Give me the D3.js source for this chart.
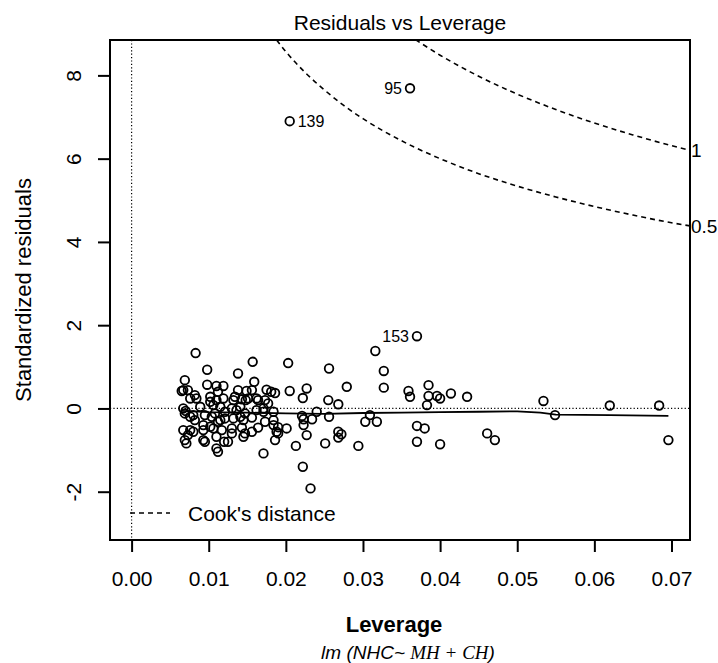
<!DOCTYPE html>
<html lang="en">
<head>
  <meta charset="utf-8">
  <title>Residuals vs Leverage</title>
  <script src="https://d3js.org/d3.v7.min.js"></script>
  <style>
    body { margin: 0; background: #fff; }
    svg { font-family: "Liberation Sans", Arial, sans-serif; }
    .pt { fill: none; stroke: #000; stroke-width: 1.8; }
    .cook { fill: none; stroke: #000; stroke-width: 1.6; stroke-dasharray: 5,4; }
    .ref { stroke: #000; stroke-width: 1.2; stroke-dasharray: 1.2,2.2; }
    .smooth { fill: none; stroke: #000; stroke-width: 1.8; }
  </style>
</head>
<body>
<script>
  // leverage / standardized residual pairs
  const leverage = [
    0.0083, 0.0157, 0.0098, 0.0138, 0.0203, 0.0069, 0.0067, 0.0098, 0.0110, 0.0119,
    0.0159, 0.0175, 0.0181, 0.0186, 0.0138, 0.0156, 0.0205, 0.0076, 0.0082, 0.0102,
    0.0110, 0.0119, 0.0134, 0.0143, 0.0151, 0.0164, 0.0177, 0.0067, 0.0070, 0.0089,
    0.0106, 0.0115, 0.0130, 0.0136, 0.0162, 0.0171, 0.0076, 0.0082, 0.0095, 0.0104,
    0.0115, 0.0121, 0.0141, 0.0156, 0.0173, 0.0184, 0.0067, 0.0080, 0.0093, 0.0106,
    0.0117, 0.0130, 0.0143, 0.0147, 0.0156, 0.0164, 0.0188, 0.0201, 0.0069, 0.0071,
    0.0093, 0.0110, 0.0125, 0.0145, 0.0186, 0.0110, 0.0112, 0.0171,
    0.0102, 0.0132, 0.0148, 0.0173, 0.0141, 0.0069, 0.0080, 0.0108, 0.0121, 0.0147,
    0.0171, 0.0184, 0.0112, 0.0132, 0.0145, 0.0093, 0.0102, 0.0184, 0.0076, 0.0130,
    0.0073, 0.0095, 0.0065, 0.0073, 0.0112, 0.0149, 0.0084, 0.0162, 0.0120, 0.0190,
    0.0256, 0.0316, 0.0327, 0.0227, 0.0222, 0.0279, 0.0327, 0.0359, 0.0361, 0.0385,
    0.0385, 0.0396, 0.0400, 0.0255, 0.0268, 0.0383, 0.0240, 0.0221, 0.0223, 0.0234,
    0.0256, 0.0309, 0.0303, 0.0318, 0.0190, 0.0223, 0.0227, 0.0268, 0.0272, 0.0268,
    0.0370, 0.0380, 0.0213, 0.0251, 0.0294, 0.0370, 0.0400, 0.0222, 0.0232,
    0.0414, 0.0435, 0.0534, 0.0549, 0.0620, 0.0684, 0.0461, 0.0471, 0.0696
  ];
  const stdResid = [
    1.33, 1.12, 0.93, 0.84, 1.09, 0.68, 0.44, 0.57, 0.54, 0.54,
    0.64, 0.45, 0.40, 0.37, 0.44, 0.44, 0.42, 0.24, 0.32, 0.28,
    0.20, 0.24, 0.28, 0.22, 0.24, 0.20, 0.12, 0.00, -0.06, 0.04,
    0.08, 0.04, 0.00, -0.04, -0.04, 0.00, -0.20, -0.28, -0.16, -0.20,
    -0.28, -0.24, -0.20, -0.22, -0.32, -0.28, -0.52, -0.56, -0.52, -0.48,
    -0.52, -0.48, -0.46, -0.60, -0.56, -0.46, -0.56, -0.48, -0.76, -0.84,
    -0.76, -0.68, -0.80, -0.68, -0.76, -0.96, -1.04, -1.08,
    0.16, 0.20, 0.20, 0.20, 0.04, -0.12, -0.16, -0.12, -0.08, -0.12,
    -0.08, -0.08, -0.32, -0.24, -0.28, -0.40, -0.44, -0.40, -0.52, -0.60,
    -0.64, -0.80, 0.42, 0.44, 0.40, 0.42, 0.24, 0.24, -0.80, -0.45,
    0.96, 1.38, 0.90, 0.48, 0.25, 0.52, 0.50, 0.42, 0.28, 0.56,
    0.30, 0.30, 0.24, 0.20, 0.10, 0.08, -0.08, -0.18, -0.26, -0.26,
    -0.20, -0.16, -0.32, -0.32, -0.60, -0.40, -0.64, -0.56, -0.62, -0.70,
    -0.42, -0.48, -0.90, -0.84, -0.90, -0.80, -0.86, -1.40, -1.92,
    0.36, 0.28, 0.18, -0.16, 0.07, 0.07, -0.60, -0.76, -0.76
  ];

  // labelled observations
  const outlierIds = ["139", "95", "153"];
  const outlierLev = [0.0205, 0.0361, 0.0370];
  const outlierRes = [6.90, 7.69, 1.735];

  // smoother through the residuals
  const smoothLev = [0.0065, 0.010, 0.015, 0.020, 0.025, 0.030, 0.035, 0.040, 0.045, 0.050, 0.053, 0.055, 0.062, 0.0696];
  const smoothRes = [-0.06, -0.09, -0.10, -0.12, -0.13, -0.11, -0.10, -0.09, -0.08, -0.07, -0.10, -0.15, -0.16, -0.18];

  // Cook's distance contours (0.5 and 1)
  const cook05Lev = [0.0188, 0.020, 0.0225, 0.025, 0.0275, 0.030, 0.035, 0.0365, 0.040, 0.045, 0.050, 0.055, 0.060, 0.065, 0.070, 0.0724];
  const cook05Res = [8.85, 8.57, 8.07, 7.65, 7.28, 6.96, 6.43, 6.29, 6.00, 5.64, 5.34, 5.08, 4.85, 4.645, 4.46, 4.384];
  const cook1Lev = [0.0368, 0.040, 0.045, 0.050, 0.055, 0.060, 0.065, 0.070, 0.0724];
  const cook1Res = [8.86, 8.485, 7.98, 7.55, 7.18, 6.856, 6.57, 6.313, 6.20];
  const cookLabels = ["1", "0.5"];

  const xTicks = [0, 0.01, 0.02, 0.03, 0.04, 0.05, 0.06, 0.07];
  const yTicks = [-2, 0, 2, 4, 6, 8];

  const width = 718, height = 663;
  const box = { left: 110, right: 690, top: 40, bottom: 540 };

  const svg = d3.select("body").append("svg")
    .attr("width", width)
    .attr("height", height);

  const x = d3.scaleLinear().domain([-0.0028, 0.0724]).range([box.left, box.right]);
  const y = d3.scaleLinear().domain([-3.16, 8.85]).range([box.bottom, box.top]);

  svg.append("clipPath").attr("id", "plot-clip")
    .append("rect")
    .attr("x", box.left).attr("y", box.top)
    .attr("width", box.right - box.left).attr("height", box.bottom - box.top);

  const plot = svg.append("g").attr("clip-path", "url(#plot-clip)");

  // dotted reference lines at 0
  plot.append("line").attr("class", "ref")
    .attr("x1", box.left).attr("x2", box.right)
    .attr("y1", y(0)).attr("y2", y(0));
  plot.append("line").attr("class", "ref")
    .attr("x1", x(0)).attr("x2", x(0))
    .attr("y1", box.top).attr("y2", box.bottom);

  // Cook's distance curves
  const line = d3.line().x(d => x(d[0])).y(d => y(d[1])).curve(d3.curveMonotoneX);
  const cook1 = cook1Lev.map((h, i) => [h, cook1Res[i]]);
  const cook05 = cook05Lev.map((h, i) => [h, cook05Res[i]]);
  plot.append("path").attr("class", "cook").attr("d", line(cook1));
  plot.append("path").attr("class", "cook").attr("d", line(cook05));

  // points
  const pts = leverage.map((h, i) => ({ h: h, r: stdResid[i] }));
  plot.selectAll(".pt")
    .data(pts)
    .enter().append("circle")
    .attr("class", "pt")
    .attr("cx", d => x(d.h))
    .attr("cy", d => y(d.r))
    .attr("r", 4.3);

  const outliers = outlierIds.map((id, i) => ({ id: id, h: outlierLev[i], r: outlierRes[i] }));
  plot.selectAll(".out")
    .data(outliers)
    .enter().append("circle")
    .attr("class", "pt out")
    .attr("cx", d => x(d.h))
    .attr("cy", d => y(d.r))
    .attr("r", 4.3);

  // smoother
  const smooth = smoothLev.map((h, i) => [h, smoothRes[i]]);
  plot.append("path").attr("class", "smooth")
    .attr("d", d3.line().x(d => x(d[0])).y(d => y(d[1]))(smooth));

  // id labels: right of point on left half, left of point on right half
  const mid = d3.mean(x.domain());
  svg.selectAll(".idlab")
    .data(outliers)
    .enter().append("text")
    .attr("class", "idlab")
    .attr("x", d => d.h < mid ? x(d.h) + 8 : x(d.h) - 8)
    .attr("y", d => y(d.r))
    .attr("dy", "0.36em")
    .attr("text-anchor", d => d.h < mid ? "start" : "end")
    .attr("font-size", 16)
    .text(d => d.id);

  // contour labels at right edge
  const cookEnds = [cook1Res[cook1Res.length - 1], cook05Res[cook05Res.length - 1]];
  svg.selectAll(".cooklab")
    .data(cookLabels)
    .enter().append("text")
    .attr("class", "cooklab")
    .attr("x", box.right + 1)
    .attr("y", (d, i) => y(cookEnds[i]))
    .attr("dy", "0.36em")
    .attr("font-size", 19)
    .text(d => d);

  // legend
  svg.append("line").attr("class", "cook")
    .attr("x1", 130).attr("x2", 170)
    .attr("y1", 513).attr("y2", 513);
  svg.append("text")
    .attr("x", 188).attr("y", 521)
    .attr("font-size", 21)
    .text("Cook's distance");

  // box
  svg.append("rect")
    .attr("x", box.left).attr("y", box.top)
    .attr("width", box.right - box.left).attr("height", box.bottom - box.top)
    .attr("fill", "none").attr("stroke", "#000").attr("stroke-width", 2);

  // x-axis
  svg.append("g")
    .attr("transform", `translate(0,${box.bottom})`)
    .call(d3.axisBottom(x).tickValues(xTicks).tickFormat(d3.format(".2f"))
      .tickSize(12).tickPadding(19).tickSizeOuter(0))
    .attr("font-size", 21).attr("font-family", null)
    .call(g => g.select(".domain").remove())
    .call(g => g.selectAll("line").attr("stroke-width", 2));

  // y-axis with rotated labels (plain hyphen for negatives)
  svg.append("g")
    .attr("transform", `translate(${box.left},0)`)
    .call(d3.axisLeft(y).tickValues(yTicks).tickFormat(d => String(d))
      .tickSize(12).tickSizeOuter(0))
    .attr("font-size", 21).attr("font-family", null)
    .call(g => g.select(".domain").remove())
    .call(g => g.selectAll("line").attr("stroke-width", 2))
    .call(g => g.selectAll("text")
      .attr("x", null).attr("dy", null)
      .attr("text-anchor", "middle")
      .attr("transform", "translate(-29,0) rotate(-90)"));

  // title and axis labels
  svg.append("text")
    .attr("x", (box.left + box.right) / 2).attr("y", 29.5)
    .attr("text-anchor", "middle").attr("font-size", 21)
    .text("Residuals vs Leverage");

  svg.append("text")
    .attr("transform", `translate(31,${(box.top + box.bottom) / 2}) rotate(-90)`)
    .attr("text-anchor", "middle").attr("font-size", 22)
    .text("Standardized residuals");

  svg.append("text")
    .attr("x", 394).attr("y", 632)
    .attr("text-anchor", "middle").attr("font-size", 22).attr("font-weight", "bold")
    .text("Leverage");

  const sub = svg.append("text")
    .attr("x", 408).attr("y", 659)
    .attr("text-anchor", "middle").attr("font-size", 19).attr("font-style", "italic");
  sub.append("tspan").text("lm (NHC~ ");
  sub.append("tspan").attr("font-family", "'Liberation Serif', 'DejaVu Serif', serif").text("MH + CH");
  sub.append("tspan").text(")");
</script>
</body>
</html>
